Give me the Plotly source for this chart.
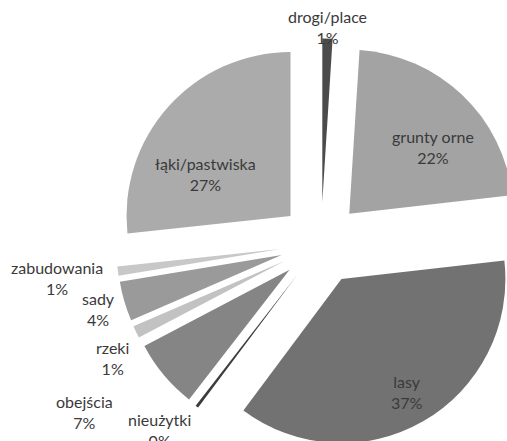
import plotly.graph_objects as go

# Land-use structure (share of area, %)
categories = ["drogi/place", "grunty orne", "lasy", "nieużytki", "obejścia",
              "rzeki", "sady", "zabudowania", "łąki/pastwiska"]
values = [1.0, 22.2, 37.0, 0.3, 6.8, 1.2, 3.9, 0.9, 26.7]
colors = ["#4b4b4b", "#a3a3a3", "#727272", "#3c3c3c", "#858585",
          "#c2c2c2", "#9a9a9a", "#c8c8c8", "#ababab"]

W, H = 530, 450
R = 164          # pie radius, px
PULL = 0.25      # explosion as a fraction of the radius
CX, CY = 321, 243.5  # pie centre, px from top-left

half = R * (1 + PULL)
dom_x = [(CX - half) / W, (CX + half) / W]
dom_y = [1 - (CY + half) / H, 1 - (CY - half) / H]

fig = go.Figure(go.Pie(
    labels=categories,
    values=values,
    sort=False,
    direction="clockwise",
    rotation=0,
    pull=[PULL] * len(values),
    marker=dict(colors=colors, line=dict(width=0)),
    textinfo="none",
    hoverinfo="label+percent",
    showlegend=False,
    domain=dict(x=dom_x, y=dom_y),
))

# label anchor points (px from top-left) for each category
label_pos = {
    "drogi/place": (327, 27),
    "grunty orne": (433, 147),
    "lasy": (407, 392),
    "nieużytki": (159, 430),
    "obejścia": (84, 412),
    "rzeki": (112, 358),
    "sady": (99, 309),
    "zabudowania": (57, 278),
    "łąki/pastwiska": (205, 174),
}

total = sum(values)
for cat, val in zip(categories, values):
    px, py = label_pos[cat]
    fig.add_annotation(
        x=px / W, y=1 - py / H, xref="paper", yref="paper",
        text=f"{cat}<br>{round(100 * val / total)}%",
        showarrow=False, xanchor="center", yanchor="middle",
        font=dict(family="Lato, sans-serif", size=16, color="#3a3a3a"),
    )

fig.update_layout(
    width=W, height=H,
    margin=dict(l=0, r=0, t=0, b=0),
    paper_bgcolor="white",
    plot_bgcolor="white",
)

fig.write_html("out.html")
